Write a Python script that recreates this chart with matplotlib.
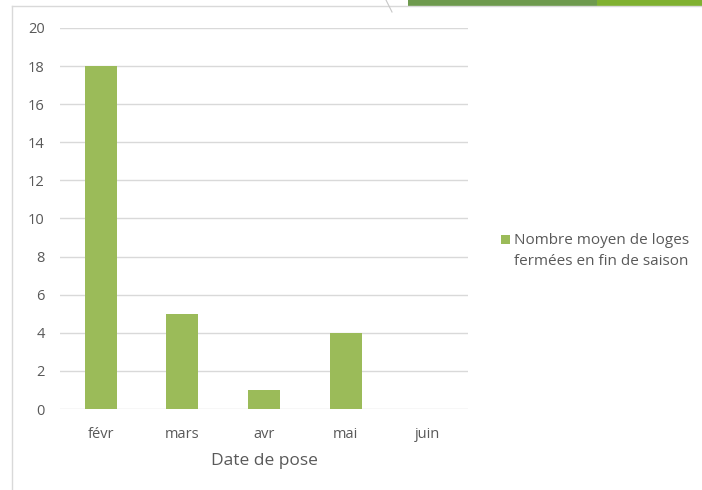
import matplotlib.pyplot as plt
from matplotlib.patches import Rectangle
from matplotlib.lines import Line2D
from matplotlib.legend_handler import HandlerPatch, update_from_first_child
from matplotlib.container import BarContainer

# données
mois = ['févr', 'mars', 'avr', 'mai', 'juin']
loges = [18, 5, 1, 4, 0]
yticks = [0, 2, 4, 6, 8, 10, 12, 14, 16, 18, 20]
serie = 'Nombre moyen de loges\nfermées en fin de saison'

W, H = 702, 490
fig = plt.figure(figsize=(W / 100, H / 100), dpi=100)
plt.rcParams['font.family'] = ['Open Sans', 'DejaVu Sans']

# cadre du graphique (bord gris en haut et a gauche)
fig.add_artist(Line2D([12 / W, 1], [1 - 6 / H, 1 - 6 / H], color='#d9d9d9', lw=1))
fig.add_artist(Line2D([12 / W, 12 / W], [0, 1 - 6 / H], color='#d9d9d9', lw=1))
# bandeau vert de la diapo en haut a droite
fig.add_artist(Rectangle((408 / W, 1 - 6 / H), 189 / W, 6 / H, color='#6e9a4e', lw=0))
fig.add_artist(Rectangle((597 / W, 1 - 6 / H), 105 / W, 6 / H, color='#80b130', lw=0))
fig.add_artist(Line2D([386 / W, 392 / W], [1.0, 1 - 12 / H], color='#c8c8c8', lw=0.8))

ax = fig.add_axes([60 / W, 81 / H, 408 / W, 381 / H])
x = range(len(mois))
ax.bar(x, loges, width=0.39, color='#9bbb59', zorder=3, label=serie)
ax.set_xlim(-0.5, len(mois) - 0.5)
ax.set_ylim(0, 20)
ax.set_yticks(yticks)
ax.set_xticks(list(x))
ax.set_xticklabels(mois)
ax.grid(axis='y', color='#d9d9d9', lw=1, zorder=0)
for s in ax.spines.values():
    s.set_visible(False)
ax.tick_params(length=0, labelsize=10.5, colors='#595959')
ax.tick_params(axis='y', pad=11)
ax.tick_params(axis='x', pad=13)
ax.set_xlabel('Date de pose', fontsize=12.5, color='#595959', labelpad=8)


# carré de légende aligné sur la première ligne (comme Excel)
def carre_haut(legend, orig_handle, xdescent, ydescent, width, height, fontsize):
    return Rectangle((-xdescent, -ydescent + 0.75 * fontsize), width, height)


leg = ax.legend(loc='center left', bbox_to_anchor=(427 / 408, 0.415), frameon=False,
                fontsize=11, handlelength=0.6, handleheight=0.6, handletextpad=0.25,
                labelspacing=0,
                handler_map={BarContainer: HandlerPatch(patch_func=carre_haut,
                                                        update_func=update_from_first_child)})
for t in leg.get_texts():
    t.set_color('#595959')
    t.set_linespacing(1.5)

fig.savefig('out.png', dpi=100)
